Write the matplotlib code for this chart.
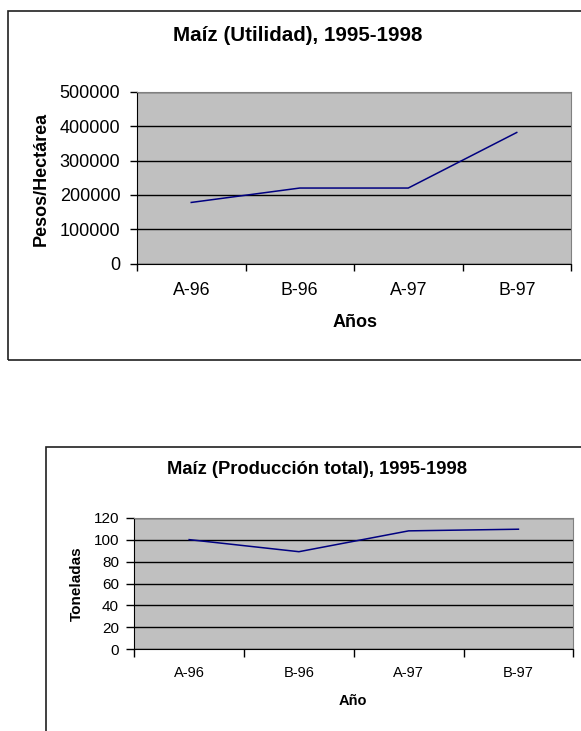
import numpy as np
import matplotlib
matplotlib.use('Agg')
import matplotlib.pyplot as plt
from matplotlib.patches import Rectangle
from matplotlib.ticker import FixedLocator, NullFormatter

plt.rcParams['font.family'] = ['Liberation Sans', 'DejaVu Sans']

#%% data
periodos = ['A-96', 'B-96', 'A-97', 'B-97']
utilidad = [178000, 220000, 220000, 382000]      # pesos / hectarea
produccion = [100, 89, 108, 109.5]                # toneladas

ticks_utilidad = [0, 100000, 200000, 300000, 400000, 500000]
ticks_produccion = [0, 20, 40, 60, 80, 100, 120]

W, H = 581, 731
fig = plt.figure(figsize=(W / 100, H / 100), dpi=100)

# outer frames of the two excel charts (they run off the page on the right / bottom)
fig.patches.append(Rectangle((8 / W, 1 - 360 / H), 1.2, (360 - 11) / H, transform=fig.transFigure,
                             fill=False, edgecolor='#202020', linewidth=1.2))
fig.patches.append(Rectangle((45.7 / W, -0.2), 1.2, 0.2 + 1 - 446.7 / H, transform=fig.transFigure,
                             fill=False, edgecolor='#202020', linewidth=1.2))


def excel_axes(ax, valores, yticks, fs_x, fs_y, pad_x, pad_y, tick_len):
    x = np.arange(len(periodos))
    ax.set_facecolor('#C0C0C0')
    ax.plot(x, valores, color='#000080', linewidth=1.1, zorder=3)
    ax.set_xlim(-0.5, len(periodos) - 0.5)
    ax.set_ylim(yticks[0], yticks[-1])
    ax.set_yticks(yticks)
    ax.set_yticklabels([str(t) for t in yticks], fontsize=fs_y)
    # category borders get the tick marks, labels sit in the middle
    ax.xaxis.set_major_locator(FixedLocator(np.arange(len(periodos) + 1) - 0.5))
    ax.xaxis.set_major_formatter(NullFormatter())
    ax.set_xticks(x, minor=True)
    ax.set_xticklabels(periodos, minor=True, fontsize=fs_x)
    ax.tick_params(axis='x', which='minor', length=0, pad=pad_x)
    ax.tick_params(axis='x', which='major', direction='out', length=tick_len, width=1, color='black')
    ax.tick_params(axis='y', direction='out', length=tick_len, width=1, color='black', pad=pad_y)
    ax.grid(axis='y', color='black', linewidth=1)
    ax.set_axisbelow(True)
    for s in ['top', 'right']:
        ax.spines[s].set_color('#808080')
    for s in ['left', 'bottom']:
        ax.spines[s].set_color('black')


#%% top chart: utilidad
ax1 = fig.add_axes([137 / W, 1 - 263.5 / H, 434 / W, 171.5 / H])
excel_axes(ax1, utilidad, ticks_utilidad, 12.8, 13, 13, 7, 5)
ax1.text(0.3698, 1.3306, 'Maíz (Utilidad), 1995-1998', transform=ax1.transAxes,
         ha='center', va='center', fontsize=14.8, fontweight='bold')
ax1.set_xlabel('Años', fontsize=13, fontweight='bold', va='center')
ax1.xaxis.set_label_coords(0.5023, -0.345)
ax1.set_ylabel('Pesos/Hectárea', fontsize=13, fontweight='bold', va='center', ha='center')
ax1.yaxis.set_label_coords(-0.2196, 0.4927)

#%% bottom chart: produccion total
ax2 = fig.add_axes([134.3 / W, 1 - 649.3 / H, 439 / W, 131.6 / H])
excel_axes(ax2, produccion, ticks_produccion, 10.5, 11, 12, 5.5, 5.5)
ax2.text(0.4162, 1.370, 'Maíz (Producción total), 1995-1998', transform=ax2.transAxes,
         ha='center', va='center', fontsize=13.2, fontweight='bold')
ax2.set_xlabel('Año', fontsize=10.5, fontweight='bold', va='center')
ax2.xaxis.set_label_coords(0.4989, -0.3906)
ax2.set_ylabel('Toneladas', fontsize=11, fontweight='bold', va='center', ha='center')
ax2.yaxis.set_label_coords(-0.1312, 0.4977)

fig.savefig('out.png', dpi=100)
